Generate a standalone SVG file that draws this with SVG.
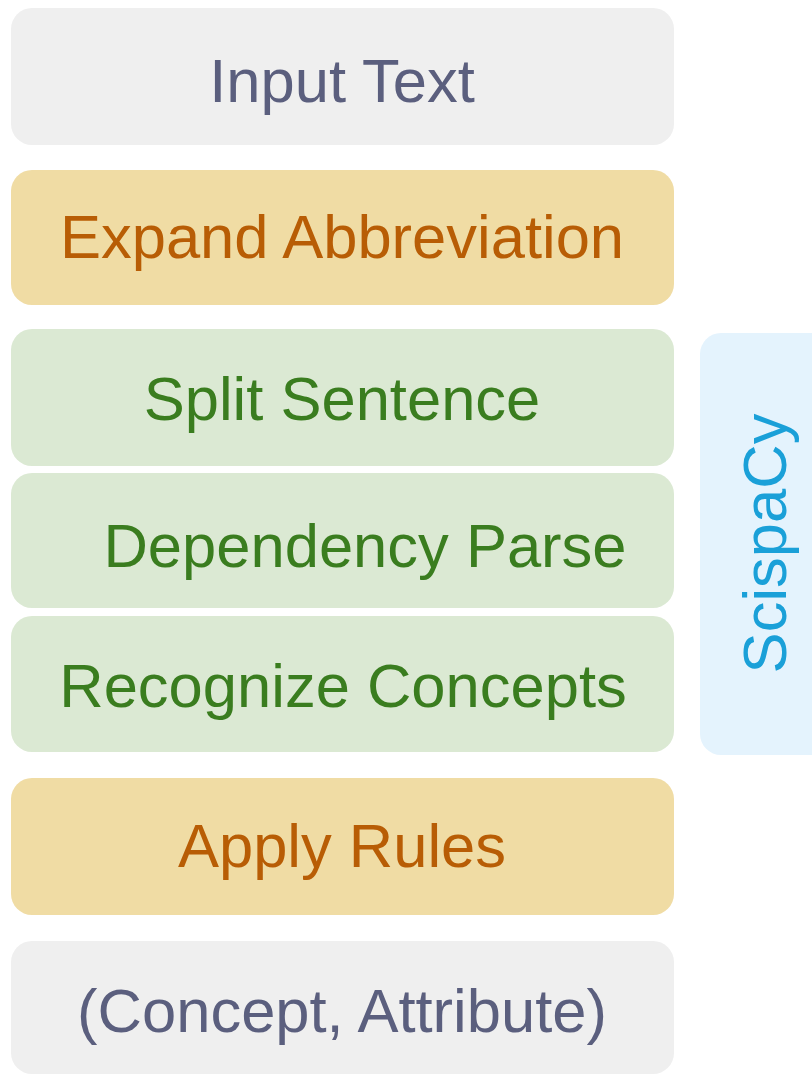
<svg xmlns="http://www.w3.org/2000/svg" width="812" height="1075" viewBox="0 0 812 1075">
  <style>
    .box { stroke: none; }
    .io { fill: #efefef; }
    .rule { fill: #f0dca4; }
    .nlp { fill: #dbe9d3; }
    .lib { fill: #e4f3fd; }
    text { font-family: "Liberation Sans", Arial, Helvetica, sans-serif; font-size: 61.5px; }
    .t-io { fill: #5b5f7e; }
    .t-rule { fill: #b85d05; }
    .t-nlp { fill: #3a7d1f; }
    .t-lib { fill: #1aa0d8; }
  </style>
  <rect width="812" height="1075" fill="#ffffff"/>

  <!-- pipeline stages, top to bottom -->
  <g id="input-text">
    <rect class="box io" x="11" y="8" width="663" height="137" rx="21"/>
    <text class="t-io" x="342" y="102" text-anchor="middle">Input Text</text>
  </g>
  <g id="expand-abbreviation">
    <rect class="box rule" x="11" y="170" width="663" height="135" rx="21"/>
    <text class="t-rule" x="342" y="258" text-anchor="middle">Expand Abbreviation</text>
  </g>
  <g id="split-sentence">
    <rect class="box nlp" x="11" y="329" width="663" height="137" rx="21"/>
    <text class="t-nlp" x="342" y="420" text-anchor="middle">Split Sentence</text>
  </g>
  <g id="dependency-parse">
    <rect class="box nlp" x="11" y="473" width="663" height="135" rx="21"/>
    <text class="t-nlp" x="365" y="567" text-anchor="middle">Dependency Parse</text>
  </g>
  <g id="recognize-concepts">
    <rect class="box nlp" x="11" y="616" width="663" height="136" rx="21"/>
    <text class="t-nlp" x="343" y="707" text-anchor="middle">Recognize Concepts</text>
  </g>
  <g id="apply-rules">
    <rect class="box rule" x="11" y="778" width="663" height="137" rx="21"/>
    <text class="t-rule" x="342" y="867" text-anchor="middle">Apply Rules</text>
  </g>
  <g id="concept-attribute">
    <rect class="box io" x="11" y="941" width="663" height="133" rx="21"/>
    <text class="t-io" x="342" y="1032" text-anchor="middle">(Concept, Attribute)</text>
  </g>

  <!-- library bracket spanning the three NLP stages -->
  <g id="scispacy">
    <rect class="box lib" x="700" y="333" width="140" height="422" rx="21"/>
    <text class="t-lib" transform="translate(786,543.5) rotate(-90)" text-anchor="middle">ScispaCy</text>
  </g>

  <g id="connectors"/>
</svg>
